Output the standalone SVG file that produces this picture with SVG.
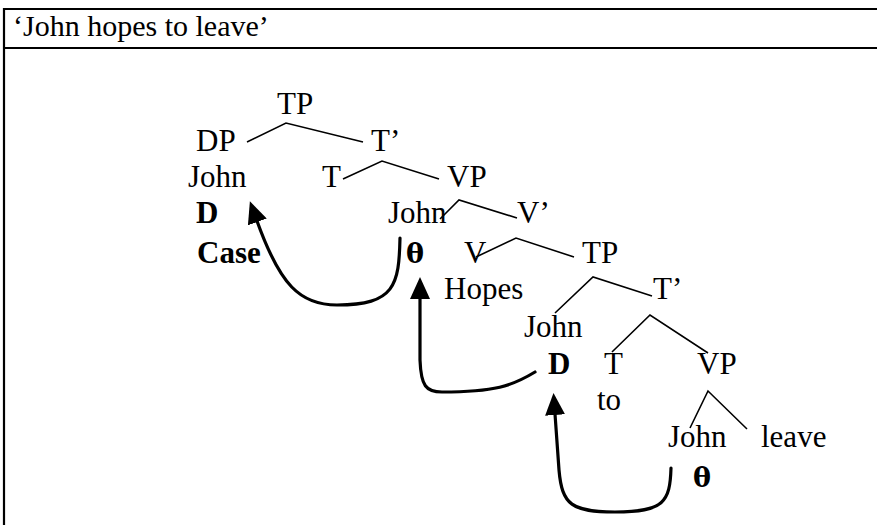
<svg xmlns="http://www.w3.org/2000/svg" width="877" height="525" viewBox="0 0 877 525">
<defs>
<style>
text{font-family:"Liberation Serif","Times New Roman",serif;font-size:31px;fill:#000}
.t{font-size:30px}
.b{font-weight:bold}
.th{font-family:"DejaVu Serif","Liberation Serif",serif;font-weight:bold;font-size:27px}
.tree polyline{fill:none;stroke:#000;stroke-width:1.6}
.arr{fill:none;stroke:#000;stroke-width:3.2;stroke-linecap:round}
</style>
<marker id="ah" viewBox="0 0 22 20" refX="1" refY="10" markerWidth="22" markerHeight="20" markerUnits="userSpaceOnUse" orient="auto">
<path d="M0,0 L22,10 L0,20 Z" fill="#000"/>
</marker>
</defs>
<rect width="877" height="525" fill="#fff"/>
<g id="frame" stroke="#000" stroke-width="2.2" fill="none">
<line x1="4" y1="9" x2="877" y2="9"/>
<line x1="4" y1="48" x2="877" y2="48"/>
<line x1="4" y1="8" x2="4" y2="525"/>
</g>
<text id="title" class="t" x="13" y="36">‘John hopes to leave’</text>
<g id="nodes">
<g id="tp1"><text x="277" y="114">TP</text></g>
<g id="dp"><text x="196" y="151">DP</text></g>
<g id="tbar1"><text x="371" y="151">T’</text></g>
<g id="john1"><text x="188" y="187">John</text></g>
<g id="t1"><text x="322" y="187">T</text></g>
<g id="vp1"><text x="447" y="187">VP</text></g>
<g id="d1"><text class="b" x="196" y="223">D</text></g>
<g id="john2"><text x="388" y="223">John</text></g>
<g id="vbar"><text x="517" y="223">V’</text></g>
<g id="case"><text class="b" x="197" y="263">Case</text></g>
<g id="theta1"><text class="th" x="406" y="263">θ</text></g>
<g id="v"><text x="464" y="263">V</text></g>
<g id="tp2"><text x="582" y="263">TP</text></g>
<g id="hopes"><text x="444" y="299">Hopes</text></g>
<g id="tbar2"><text x="653" y="299">T’</text></g>
<g id="john3"><text x="524" y="337">John</text></g>
<g id="d2"><text class="b" x="548" y="374">D</text></g>
<g id="t2"><text x="604" y="374">T</text></g>
<g id="vp2"><text x="697" y="374">VP</text></g>
<g id="to"><text x="597" y="410">to</text></g>
<g id="john4"><text x="668" y="447">John</text></g>
<g id="leave"><text x="761" y="447">leave</text></g>
<g id="theta2"><text class="th" x="693" y="487">θ</text></g>
</g>
<g id="connectors">
<g class="tree">
<polyline points="247,142 286,123 363,142"/>
<polyline points="343,179 382,161 439,179"/>
<polyline points="440,219 459,200 517,218"/>
<polyline points="476,257 516,238 574,257"/>
<polyline points="555,313 593,277 652,296"/>
<polyline points="612,352 650,315 708,353"/>
<polyline points="690,428 708,391 747,429"/>
</g>
<path class="arr" d="M400,238 C399,285 395,305 337,305 C300,305 280,285 257,221" marker-end="url(#ah)"/>
<path class="arr" d="M535,372 C512,386 495,392 442,392 C426,392 421,386 420,360 L420,298" marker-end="url(#ah)"/>
<path class="arr" d="M671,468 C670,502 664,512 615,512 C572,512 562,505 559,470 L555,414" marker-end="url(#ah)"/>
</g>
</svg>
